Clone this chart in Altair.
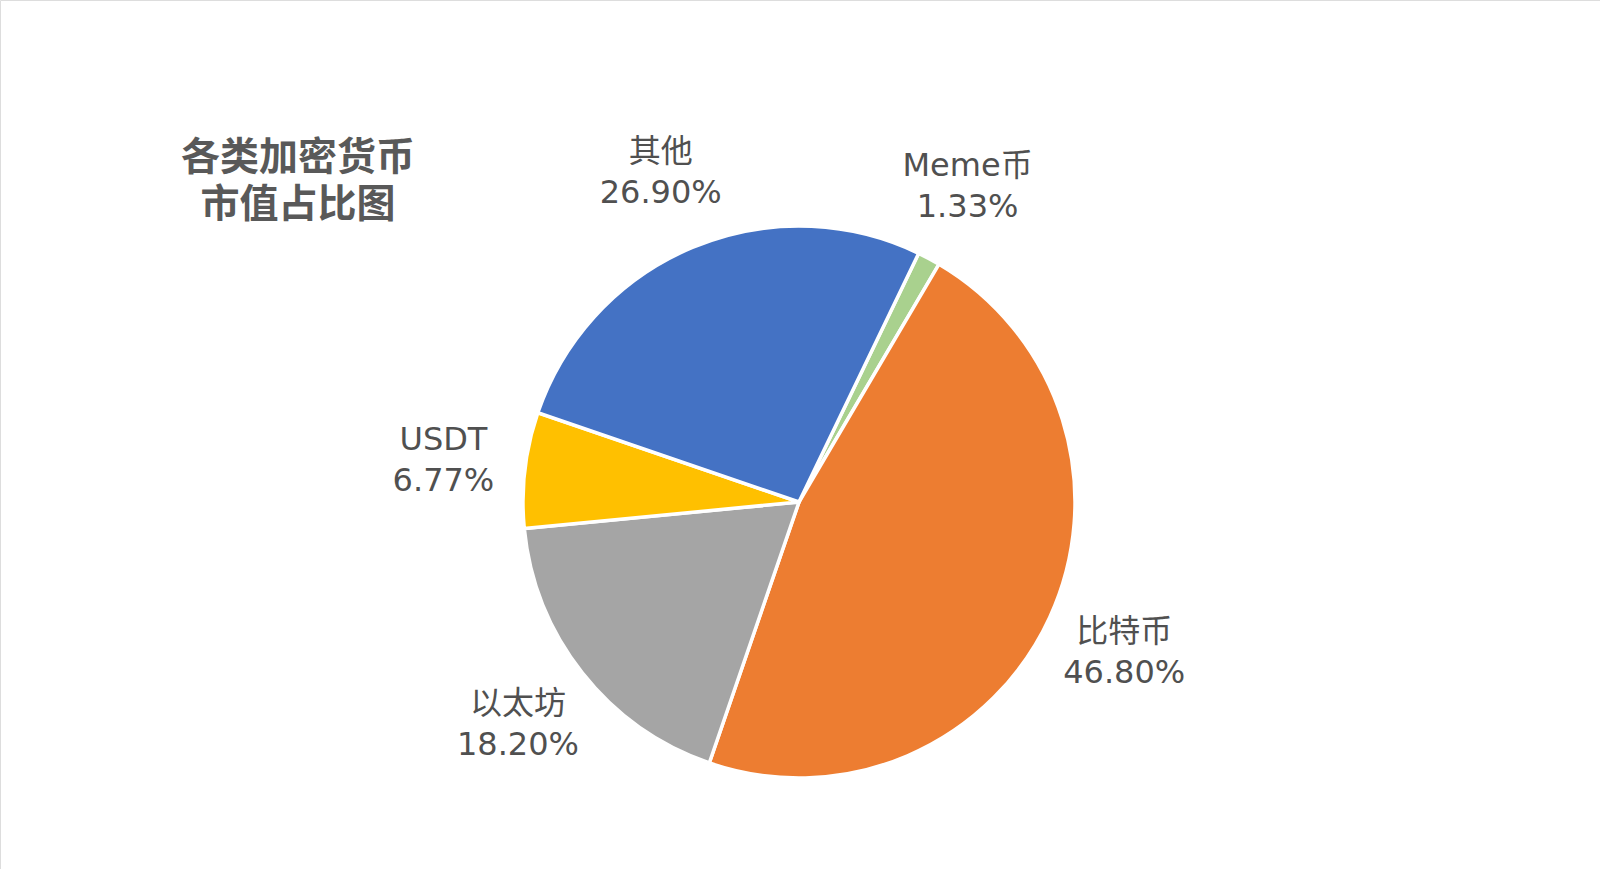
import math
import altair as alt
import pandas as pd

names = ["Meme币", "比特币", "以太坊", "USDT", "其他"]
values = [1.33, 46.80, 18.20, 6.77, 26.90]
pct_labels = ["1.33%", "46.80%", "18.20%", "6.77%", "26.90%"]
colors = ["#A9D18E", "#ED7D31", "#A5A5A5", "#FFC000", "#4472C4"]
title_lines = ["各类加密货币", "市值占比图"]

df = pd.DataFrame({"name": names, "value": values, "pct": pct_labels, "idx": list(range(len(names)))})

start = math.radians(25.7)
theta_scale = alt.Scale(range=[start, start + 2 * math.pi])
CX, CY, R, LR = 799, 502, 276, 358
FONT = "DejaVu Sans, Noto Sans CJK SC, sans-serif"
CJK = "Noto Sans CJK SC, sans-serif"

base = alt.Chart(df).encode(
    theta=alt.Theta("value:Q", stack=True, scale=theta_scale),
    order=alt.Order("idx:Q"),
    x=alt.value(CX),
    y=alt.value(CY),
)

arcs = base.mark_arc(outerRadius=R, stroke="white", strokeWidth=3.5).encode(
    color=alt.Color("name:N", scale=alt.Scale(domain=names, range=colors), legend=None)
)

name_text = base.mark_text(radius=LR, dy=-20, fontSize=32, font=FONT, color="#505050",
                           align="center", baseline="middle").encode(text="name:N")
pct_text = base.mark_text(radius=LR, dy=21, fontSize=32, font=FONT, color="#505050",
                          align="center", baseline="middle").encode(text="pct:N")

tdf = pd.DataFrame({"line": ["\n".join(title_lines)]})
title = alt.Chart(tdf).mark_text(fontSize=39, font=CJK, fontWeight="bold", color="#595959",
                                 align="center", baseline="middle", lineBreak="\n",
                                 lineHeight=47).encode(
    text="line:N",
    x=alt.value(298),
    y=alt.value(158),
)

chart = alt.layer(arcs, name_text, pct_text, title).properties(
    width=1600, height=869, autosize="none", padding=0
).configure_view(stroke=None).configure(background="white")

chart.save("out.html", embed_options={"renderer": "svg", "actions": False})
